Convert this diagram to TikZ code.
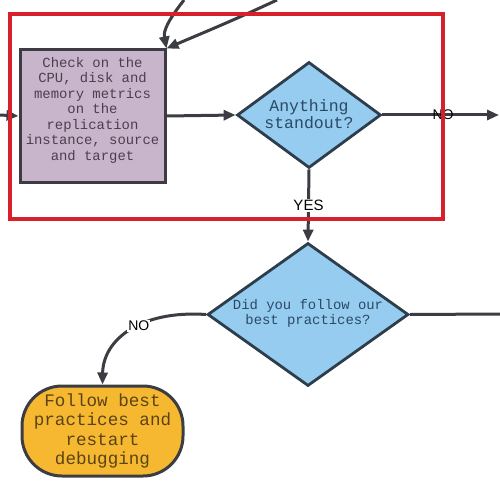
\documentclass[tikz,border=0pt]{standalone}
\usepackage{fontspec}
\setmainfont{Liberation Sans}
\newfontfamily\monofont{Liberation Mono}
\usetikzlibrary{shapes.geometric,arrows.meta}
\definecolor{framered}{HTML}{D8202B}
\definecolor{edgegrey}{HTML}{3B3D42}
\definecolor{boxfill}{HTML}{C9B5CB}
\definecolor{boxtext}{HTML}{4B3F4D}
\definecolor{diafill}{HTML}{95CCEF}
\definecolor{diaedge}{HTML}{2E3D4B}
\definecolor{diatext}{HTML}{2B4A66}
\definecolor{termfill}{HTML}{F6B831}
\definecolor{termtext}{HTML}{5A4415}
\begin{document}
\begin{tikzpicture}[x=1pt,y=-1pt,
  conn/.style={draw=edgegrey,line width=3pt,-{Triangle[length=12pt,width=10pt]}},
  plain/.style={draw=edgegrey,line width=3pt},
  procbox/.style={draw=edgegrey,line width=3pt,fill=boxfill,
    minimum width=145pt,minimum height=132pt,inner sep=0pt},
  boxtxt/.style={text=boxtext,align=center,inner sep=0pt,
    font=\monofont\fontsize{13.9}{15.5}\selectfont},
  decision/.style={diamond,draw=diaedge,line width=2.8pt,fill=diafill,
    inner sep=0pt},
  diatxt/.style={text=diatext,align=center,inner sep=0pt},
  termbox/.style={draw=edgegrey,line width=3pt,fill=termfill,text=termtext,
    rounded corners=40pt,minimum width=161pt,minimum height=90pt,inner sep=0pt,align=center,
    font=\monofont\fontsize{17.6}{19.3}\selectfont},
  lbl/.style={fill=white,inner sep=1pt,text=black,font=\fontsize{14}{14}\selectfont},
  redframe/.style={draw=framered,line width=4pt,minimum width=433pt,minimum height=205pt,inner sep=0pt}]
\useasboundingbox (0,0) rectangle (500,500);
\fill[white] (0,0) rectangle (500,500);

\node[procbox] (check) at (92.5,116) {};
\node[boxtxt] (checktxt) at (92.5,110) {Check on the\\CPU, disk and\\memory metrics\\on the\\replication\\instance, source\\and target};
\node[decision,minimum width=144pt,minimum height=106pt] (stand) at (309,115) {};
\node[diatxt,font=\monofont\fontsize{16.5}{17}\selectfont] (standtxt) at (309,114) {Anything\\standout?};
\node[decision,minimum width=201pt,minimum height=143pt] (best) at (308,314.5) {};
\node[diatxt,font=\monofont\fontsize{13.9}{15}\selectfont] (besttxt) at (308,313) {Did you follow our\\best practices?};
\node[termbox] (follow) at (102.5,431) {Follow best\\practices and\\restart\\debugging};

\coordinate (inleft) at (0,115);
\coordinate (top1) at (184,0);
\coordinate (top2) at (277,0);
\coordinate (outno) at (500,115);
\coordinate (outright) at (500,314);

\draw[conn] (inleft) -- (check.west);
\draw[conn] (top1) .. controls (170,18) and (163,30) .. (check.north east);
\draw[conn] (top2) .. controls (230,22) and (200,34) .. (check.north east);
\draw[conn] (check.east) -- (stand.west);
\draw[conn] (stand.east) -- node[pos=0.52,lbl,fill=none] (nolbl) {NO} ([xshift=-1pt]outno);
\draw[conn] (stand.south) -- node[pos=0.5,lbl,font=\fontsize{15}{15}\selectfont] (yeslbl) {YES} (best.north);
\draw[plain] (best.east) -- (outright);
\draw[conn] (best.west) .. controls (140,310) and (103,340) .. node[pos=0.42,lbl] (nolbl2) {NO} (follow.north);

\node[redframe] (frame) at (226.5,116.5) {};
\end{tikzpicture}
\end{document}
